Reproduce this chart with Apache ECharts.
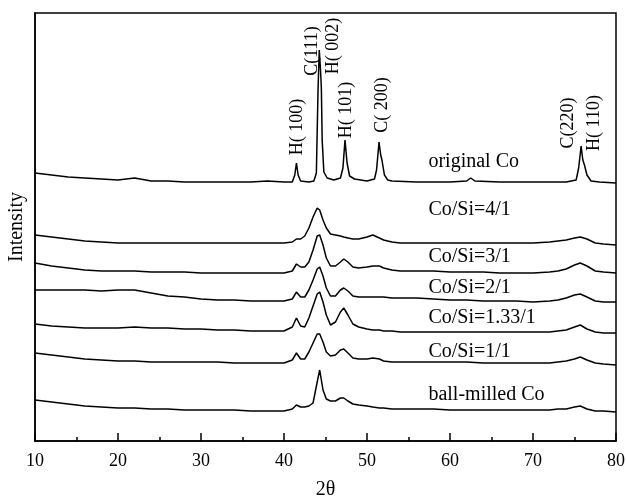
<!DOCTYPE html>
<html>
<head>
<meta charset="utf-8">
<script src="https://cdn.jsdelivr.net/npm/echarts@6/dist/echarts.min.js"></script>
<style>
html, body { margin: 0; padding: 0; background: #fff; }
#main { width: 626px; height: 498px; }
</style>
</head>
<body>
<div id="main"></div>
<script>
// 2theta grid for the milled samples
var theta = [10,12,14,16,18,20,22,24,26,28,30,32,34,36,38,40,
    41,41.5,42,42.5,43,43.5,44,44.3,44.7,45.1,
    45.6,46.2,46.8,47.2,47.7,48.3,49,50,50.7,51.5,
    52,53,54,56,58,60,62,64,66,68,
    70,72,73,74,75,75.7,76.5,77.5,78.5,80];

// original Co has sharp peaks, so it gets its own grid
var thetaOrig = [10,12,14,16,18,20,22,24,26,28,30,32,34,36,38,40,
    41,41.3,41.5,41.7,42,43,43.6,43.9,44.1,44.25,
    44.4,44.5,44.6,44.8,45.2,46,46.8,47.1,47.35,47.6,
    47.9,48.5,50,50.9,51.15,51.45,51.65,51.8,52.1,52.5,
    53,56,60,62,62.5,63,66,70,74,75.2,
    75.5,75.8,76,76.2,76.5,77,78,80];

var originalCo = [268,266,264,263,262,261,263,260,260,259,259,259,259,259,260,259,
    259,266,278,266,260,259,260,268,351,391,
    371,353,301,269,263,261,263,273,301,278,
    265,262,260,262,271,299,286,281,266,261,
    260,259,259,260,263,260,259,259,259,261,
    273,295,281,276,266,260,259,258];

var coSi41 = [206,204,202,200,199,198,198,198,198,198,198,198,198,198,198,198,
    199,202,202,205,213,224,233,231,221,213,
    207,206,205,204,203,202,202,204,206,203,
    201,199,198,198,198,198,198,198,198,198,
    198,199,200,201,203,204,202,198,197,196];

var coSi31 = [178,175,173,171,170,170,170,169,169,169,168,168,168,168,168,168,
    170,177,174,174,179,191,205,206,196,183,
    175,175,179,182,179,174,173,174,175,175,
    173,171,170,170,170,169,169,169,168,168,
    168,169,170,172,176,178,175,170,169,168];

var coSi21 = [151,151,151,151,150,151,151,148,145,144,142,141,141,140,140,140,
    142,149,144,144,151,161,172,174,165,153,
    145,145,151,153,150,145,144,144,144,144,
    144,143,143,143,142,141,141,140,140,140,
    139,140,141,143,146,147,144,140,139,139];

var coSi133 = [117,115,114,113,113,113,114,113,113,112,112,111,111,110,110,110,
    114,123,115,114,123,135,147,149,139,126,
    116,119,129,133,126,117,114,112,111,111,
    110,110,109,109,109,109,109,109,109,109,
    109,109,110,111,114,116,112,109,108,108];

var coSi11 = [88,86,84,82,81,80,80,79,79,79,79,79,78,78,78,78,
    81,88,82,82,89,98,107,107,99,89,
    85,86,91,92,88,83,82,82,83,82,
    80,79,79,79,79,79,79,78,78,78,
    78,78,79,80,82,84,81,78,77,76];

var ballMilled = [41,39,37,35,34,33,33,32,32,31,31,31,31,30,30,30,
    32,36,34,34,35,38,59,71,51,42,
    40,40,43,43,40,37,36,35,34,33,
    33,32,32,32,32,31,31,31,31,31,
    31,31,32,32,34,35,32,30,30,29];

var xTicks = [10, 20, 30, 40, 50, 60, 70, 80];

var curveNames = ['original Co', 'Co/Si=4/1', 'Co/Si=3/1', 'Co/Si=2/1',
    'Co/Si=1.33/1', 'Co/Si=1/1', 'ball-milled Co'];
var peakNames = ['H( 100)', 'C(111)', 'H( 002)', 'H( 101)', 'C( 200)', 'C(220)', 'H( 110)'];

// where the text goes, in axis units
var curveLabelX = 57.4;
var curveLabelY = [279, 231, 184, 153, 123, 89, 46];
var peakLabelX = [41.57, 43.4, 45.9, 47.47, 51.8, 74.3, 77.35];
var peakLabelY = [314, 390, 395, 331, 336, 318, 318];

var serif = '"Liberation Serif", "Times New Roman", serif';

function pairs(xs, ys) {
    return xs.map(function (x, i) { return [x, ys[i]]; });
}

var curves = [
    pairs(thetaOrig, originalCo),
    pairs(theta, coSi41),
    pairs(theta, coSi31),
    pairs(theta, coSi21),
    pairs(theta, coSi133),
    pairs(theta, coSi11),
    pairs(theta, ballMilled)
];

var myChart = echarts.init(document.getElementById('main'), null, { renderer: 'canvas' });

var option = {
    animation: false,
    backgroundColor: '#fff',
    grid: {
        left: 35, right: 10, top: 13, bottom: 57,
        outerBoundsMode: 'none',
        show: true, borderColor: '#000', borderWidth: 1.5
    },
    xAxis: {
        type: 'value',
        min: 10, max: 80, interval: 10,
        name: '2θ',
        nameLocation: 'middle',
        nameGap: 39,
        nameTextStyle: { fontFamily: serif, fontSize: 20, color: '#000' },
        axisLine: { lineStyle: { color: '#000', width: 1.5 } },
        axisTick: { inside: true, length: 8, lineStyle: { color: '#000', width: 1.5 } },
        minorTick: { show: true, splitNumber: 2, length: 4, lineStyle: { color: '#000', width: 1.5 } },
        axisLabel: {
            margin: 11, fontFamily: serif, fontSize: 18, color: '#000',
            formatter: function (v) { return xTicks.indexOf(v) >= 0 ? String(v) : ''; }
        },
        splitLine: { show: false }
    },
    yAxis: {
        type: 'value',
        min: 0, max: 428,
        name: 'Intensity',
        nameLocation: 'middle',
        nameGap: 8,
        nameTextStyle: { fontFamily: serif, fontSize: 20, color: '#000' },
        axisLine: { show: true, lineStyle: { color: '#000', width: 1.5 } },
        axisTick: { show: false },
        axisLabel: { show: false },
        splitLine: { show: false }
    },
    series: curves.map(function (d, i) {
        return {
            name: curveNames[i],
            type: 'line',
            data: d,
            showSymbol: false,
            smooth: false,
            lineStyle: { color: '#000', width: 1.5 }
        };
    })
};

myChart.setOption(option);

// text annotations, anchored in data units
var texts = [];
curveNames.forEach(function (name, i) {
    var p = myChart.convertToPixel({ gridIndex: 0 }, [curveLabelX, curveLabelY[i]]);
    texts.push({
        type: 'text', x: p[0], y: p[1], silent: true,
        style: { text: name, fill: '#000', font: '20px ' + serif, align: 'left', verticalAlign: 'middle' }
    });
});
peakNames.forEach(function (name, i) {
    var p = myChart.convertToPixel({ gridIndex: 0 }, [peakLabelX[i], peakLabelY[i]]);
    texts.push({
        type: 'text', x: p[0], y: p[1], rotation: Math.PI / 2, silent: true,
        style: { text: name, fill: '#000', font: '18px ' + serif, align: 'center', verticalAlign: 'middle' }
    });
});
myChart.setOption({ graphic: texts });
</script>
</body>
</html>
